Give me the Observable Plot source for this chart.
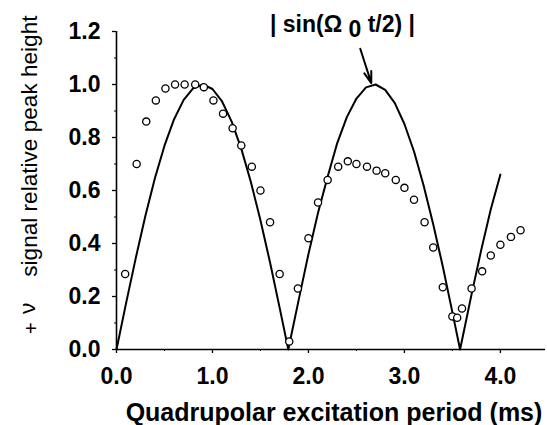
<!DOCTYPE html>
<html>
<head>
<meta charset="utf-8">
<script src="https://cdn.jsdelivr.net/npm/d3@7"></script>
<script src="https://cdn.jsdelivr.net/npm/@observablehq/plot@0.6"></script>
<style>
  html, body { margin: 0; padding: 0; background: white; }
  svg { display: block; }
</style>
</head>
<body>
<div id="chart"></div>
<script>
// Theoretical curve |sin(Ω0 t/2)|
const curveT = [0, 0.1, 0.2, 0.3, 0.4, 0.5, 0.6, 0.7, 0.8, 0.9, 1.0, 1.1, 1.2, 1.3, 1.4, 1.5, 1.6, 1.7, 1.79,
                1.9, 2.0, 2.1, 2.2, 2.3, 2.4, 2.5, 2.6, 2.7, 2.8, 2.9, 3.0, 3.1, 3.2, 3.3, 3.4, 3.5, 3.58,
                3.7, 3.8, 3.9, 4.0];
const curveV = [0, 0.175, 0.344, 0.503, 0.646, 0.769, 0.869, 0.942, 0.986, 1.0, 0.983, 0.936, 0.86, 0.758, 0.632, 0.488, 0.328, 0.157, 0.0,
                0.19, 0.36, 0.516, 0.652, 0.779, 0.877, 0.947, 0.989, 1.0, 0.98, 0.93, 0.851, 0.747, 0.619, 0.473, 0.313, 0.14, 0.0,
                0.209, 0.375, 0.529, 0.66];

// Measured points (open circles)
const pointT = [0.09, 0.21, 0.31, 0.41, 0.51, 0.61, 0.71, 0.82, 0.91, 1.01, 1.11, 1.21, 1.30, 1.41, 1.50, 1.60, 1.70,
                1.80, 1.89, 2.00, 2.10, 2.20, 2.31, 2.41, 2.50, 2.61, 2.71, 2.80, 2.91, 3.00, 3.10, 3.21, 3.30, 3.40,
                3.50, 3.55, 3.60, 3.70, 3.81, 3.90, 4.00, 4.11, 4.21];
const pointV = [0.285, 0.70, 0.86, 0.94, 0.985, 1.0, 1.0, 1.0, 0.99, 0.94, 0.89, 0.835, 0.77, 0.69, 0.60, 0.48, 0.285,
                0.03, 0.23, 0.42, 0.555, 0.64, 0.69, 0.71, 0.70, 0.69, 0.675, 0.665, 0.64, 0.61, 0.565, 0.48, 0.385, 0.235,
                0.125, 0.12, 0.155, 0.23, 0.295, 0.355, 0.395, 0.425, 0.45];

const xTicks = [0, 1, 2, 3, 4];
const xMinor = [0.5, 1.5, 2.5, 3.5];
const yTicks = [0, 0.2, 0.4, 0.6, 0.8, 1.0, 1.2];
const yMinor = [0.1, 0.3, 0.5, 0.7, 0.9, 1.1];

const xLabel = "Quadrupolar excitation period (ms)";
const yLabelMain = "signal relative peak height";
const annotation = {x: 2.36, y: 1.197, pre: "| sin(Ω ", sub: "0", post: " t/2) |"};
const arrowPos = {x1: 2.54, y1: 1.135, x2: 2.655, y2: 1.005};

const curve = curveT.map((t, i) => ({t, v: curveV[i]}));
const points = pointT.map((t, i) => ({t, v: pointV[i]}));

const font = "'Liberation Sans', Arial, Helvetica, sans-serif";

const plot = Plot.plot({
  width: 547,
  height: 425,
  marginLeft: 116,
  marginRight: 2,
  marginTop: 31,
  marginBottom: 76,
  style: {fontFamily: font, background: "white", color: "black"},
  x: {domain: [0, 4.47]},
  y: {domain: [0, 1.2]},
  marks: [
    Plot.axisX({ticks: xTicks, tickFormat: d => d.toFixed(1), tickSize: 4, tickPadding: 14,
                fontSize: 23, fontWeight: "bold", label: null, strokeWidth: 1.3}),
    Plot.axisX({ticks: xMinor, tickFormat: () => "", tickSize: 2, label: null}),
    Plot.axisY({ticks: yTicks, tickFormat: d => d.toFixed(1), tickSize: 4, tickPadding: 12,
                fontSize: 23, fontWeight: "bold", label: null, strokeWidth: 1.3}),
    Plot.axisY({ticks: yMinor, tickFormat: () => "", tickSize: 2, label: null}),
    Plot.ruleX([0], {stroke: "black", strokeWidth: 1.6}),
    Plot.ruleY([0], {stroke: "black", strokeWidth: 1.6}),
    Plot.line(curve, {x: "t", y: "v", stroke: "black", strokeWidth: 2}),
    Plot.dot(points, {x: "t", y: "v", r: 3.6, stroke: "black", strokeWidth: 1.3, fill: "white"}),
    Plot.arrow([arrowPos], {x1: "x1", y1: "y1", x2: "x2", y2: "y2", stroke: "black",
                            strokeWidth: 2, headLength: 10, headAngle: 35})
  ]
});

const svg = d3.select(plot);
const sx = plot.scale("x"), sy = plot.scale("y");

// annotation
const ann = svg.append("text")
  .attr("x", sx.apply(annotation.x))
  .attr("y", sy.apply(annotation.y))
  .attr("text-anchor", "middle")
  .attr("font-family", font)
  .attr("font-weight", "bold")
  .attr("font-size", 23)
  .attr("fill", "black");
ann.append("tspan").text(annotation.pre);
ann.append("tspan").attr("dy", 5).text(annotation.sub);
ann.append("tspan").attr("dy", -5).text(annotation.post);

// x axis title
svg.append("text")
  .attr("x", 334)
  .attr("y", 421)
  .attr("text-anchor", "middle")
  .attr("font-family", font)
  .attr("font-weight", "bold")
  .attr("font-size", 25)
  .attr("fill", "black")
  .text(xLabel);

// y axis title (rotated)
const yl = svg.append("text")
  .attr("transform", "translate(37,0) rotate(-90)")
  .attr("text-anchor", "start")
  .attr("font-family", font)
  .attr("font-size", 22.6)
  .attr("fill", "black");
yl.append("tspan").attr("x", -314).attr("y", -2).text("ν");
yl.append("tspan").attr("x", -334).attr("y", 1).attr("font-size", 20).text("+");
yl.append("tspan").attr("x", -283).attr("y", 0).text(" " + yLabelMain);

document.getElementById("chart").appendChild(plot);
</script>
</body>
</html>
